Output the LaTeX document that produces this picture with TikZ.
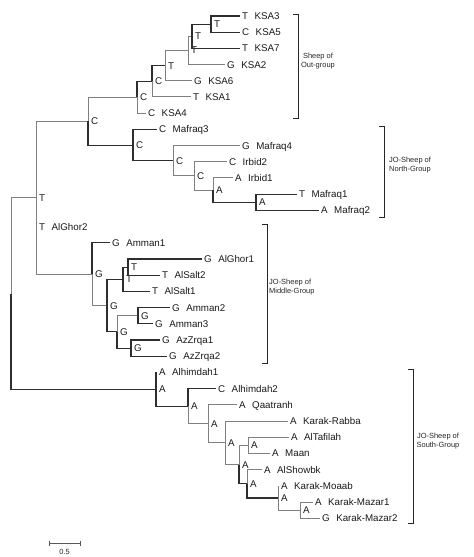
\documentclass[tikz,border=0pt]{standalone}
\usepackage{fontspec}
\setmainfont{Liberation Sans}
\newcommand\tgap{\hspace{6.5bp}}

\begin{document}
\begin{tikzpicture}[x=1bp,y=-1bp,
    br/.style={draw=black!50,line width=1bp},
    bk/.style={draw=black!82,line width=1.1bp},
    lf/.style={inner sep=2bp,text height=7bp,text depth=0bp,text=black!90,font=\fontsize{9.8}{11}\selectfont},
    st/.style={lf,inner sep=3bp},
    grp/.style={align=center,inner sep=0pt,text=black!85,font=\fontsize{7.5}{9}\selectfont},
    brk/.style={draw=black!85,line width=0.9bp}]
\useasboundingbox (0,0) rectangle (474,557);

                      % leaves
                      \coordinate[label={[lf]right:T\tgap KSA3}] (ksa3) at (240,16);
                      \coordinate[label={[lf]right:C\tgap KSA5}] (ksa5) at (240,32.2);
                      \coordinate[label={[lf]right:T\tgap KSA7}] (ksa7) at (240,48.4);
                      \coordinate[label={[lf]right:G\tgap KSA2}] (ksa2) at (225,64.6);
                      \coordinate[label={[lf]right:G\tgap KSA6}] (ksa6) at (192,80.8);
                      \coordinate[label={[lf]right:T\tgap KSA1}] (ksa1) at (191,97);
                      \coordinate[label={[lf]right:C\tgap KSA4}] (ksa4) at (146,113.2);

                      \coordinate[label={[lf]right:C\tgap Mafraq3}] (mafraq3) at (157,129.4);
                      \coordinate[label={[lf]right:G\tgap Mafraq4}] (mafraq4) at (240,145.6);
                      \coordinate[label={[lf]right:C\tgap Irbid2}] (irbid2) at (227,161.8);
                      \coordinate[label={[lf]right:A\tgap Irbid1}] (irbid1) at (233,178);
                      \coordinate[label={[lf]right:T\tgap Mafraq1}] (mafraq1) at (297,194.2);
                      \coordinate[label={[lf]right:A\tgap Mafraq2}] (mafraq2) at (319,210.4);

                      \coordinate[label={[st]right:T\tgap AlGhor2}] (alghor2) at (36,226.6);
                      \coordinate[label={[lf]right:G\tgap Amman1}] (amman1) at (110,242.8);
                      \coordinate[label={[lf]right:G\tgap AlGhor1}] (alghor1) at (202,259);
                      \coordinate[label={[lf]right:T\tgap AlSalt2}] (alsalt2) at (160,275.2);
                      \coordinate[label={[lf]right:T\tgap AlSalt1}] (alsalt1) at (150,291.4);
                      \coordinate[label={[lf]right:G\tgap Amman2}] (amman2) at (170,307.6);
                      \coordinate[label={[lf]right:G\tgap Amman3}] (amman3) at (153,323.8);
                      \coordinate[label={[lf]right:G\tgap AzZrqa1}] (azzrqa1) at (160,340);
                      \coordinate[label={[lf]right:G\tgap AzZrqa2}] (azzrqa2) at (167,356.2);

                      \coordinate[label={[st]right:A\tgap Alhimdah1}] (alhimdah1) at (156,372.4);
                      \coordinate[label={[lf]right:C\tgap Alhimdah2}] (alhimdah2) at (216,388.6);
                      \coordinate[label={[lf]right:A\tgap Qaatranh}] (qaatranh) at (237,404.8);
                      \coordinate[label={[lf]right:A\tgap Karak-Rabba}] (karakrabba) at (288,421);
                      \coordinate[label={[lf]right:A\tgap AlTafilah}] (altafilah) at (289,437.2);
                      \coordinate[label={[lf]right:A\tgap Maan}] (maan) at (270,453.4);
                      \coordinate[label={[lf]right:A\tgap AlShowbk}] (alshowbk) at (262,469.6);
                      \coordinate[label={[st]right:A\tgap Karak-Moaab}] (karakmoaab) at (278,485.8);
                      \coordinate[label={[lf]right:A\tgap Karak-Mazar1}] (karakmazar1) at (313,502);
                      \coordinate[label={[lf]right:G\tgap Karak-Mazar2}] (karakmazar2) at (320,518.2);

                      % inner nodes
                      \coordinate (r) at (11,293.5);
                      \coordinate[label={[st]right:T}] (nT) at (36,197.7);
                      \coordinate[label={[st]right:C}] (nC1) at (88,121.2);
                      \coordinate[label={[st]right:C}] (nC2) at (137,97.25);
                      \coordinate[label={[st]right:C}] (nC3) at (152,81.3);
                      \coordinate[label={[st]right:T}] (nT2) at (165,65.6);
                      \coordinate[label={[st]right:T}] (nT3) at (188,50.4);
                      \coordinate[label={[st]right:T}] (nT4) at (192,36.25);
                      \coordinate[label={[st]right:T}] (nT5) at (211,24.1);
                      \coordinate[label={[st]right:C}] (nC4) at (133,145.1);
                      \coordinate[label={[st]right:C}] (nC5) at (173,160.8);
                      \coordinate[label={[st]right:C}] (nC6) at (194,176);
                      \coordinate[label={[st]right:A}] (nA1) at (213,190.15);
                      \coordinate[label={[st]right:A}] (nA2) at (256,202.3);
                      \coordinate[label={[st]right:G}] (nG1) at (92,274.2);
                      \coordinate[label={[st]right:G}] (nG2) at (107,305.6);
                      \coordinate[label={[st]right:T}] (nT6) at (123,279.25);
                      \coordinate[label={[st]right:T}] (nT7) at (128,267.1);
                      \coordinate[label={[st]right:G}] (nG3) at (117,331.9);
                      \coordinate[label={[st]right:G}] (nG4) at (138,315.7);
                      \coordinate[label={[st]right:G}] (nG5) at (131,348.1);
                      \coordinate[label={[st]right:A}] (nA3) at (156,389.3);
                      \coordinate[label={[st]right:A}] (nA4) at (188,406.2);
                      \coordinate[label={[st]right:A}] (nA5) at (208,423.8);
                      \coordinate[label={[st]right:A}] (nA6) at (225,442.8);
                      \coordinate[label={[st]right:A}] (nA7) at (239,464.55);
                      \coordinate[label={[st]right:A}] (nA8) at (248,445.3);
                      \coordinate[label={[st]right:A}] (nA9) at (247,483.8);
                      \coordinate[label={[st]right:A}] (nA10) at (278,498);
                      \coordinate[label={[st]right:A}] (nA11) at (300,510.1);

                      % branches
                      \draw[br] (r) |- (nT);
                      \draw[br] (nT) |- (nC1) (nT) |- (alghor2) (nT) |- (nG1);
                      \draw[br] (nC1) |- (nC2);
                      \draw[br] (nC2) |- (ksa4);
                      \draw[br] (nC3) |- (ksa1);
                      \draw[br] (nT2) |- (nT3) (nT2) |- (ksa6);
                      \draw[br] (nT3) |- (nT4) (nT3) |- (ksa2);
                      \draw[br] (nC5) |- (mafraq4) (nC5) |- (nC6);
                      \draw[br] (nC6) |- (irbid2) (nC6) |- (nA1);
                      \draw[br] (nA1) |- (irbid1);
                      \draw[br] (nG1) |- (nG2);
                      \draw[br] (nG3) |- (nG4);
                      \draw[br] (nA4) |- (nA5);
                      \draw[br] (nA5) |- (qaatranh) (nA5) |- (nA6);
                      \draw[br] (nA6) |- (karakrabba) (nA6) |- (nA7);
                      \draw[br] (nA7) |- (nA8);
                      \draw[br] (nA8) |- (altafilah) (nA8) |- (maan);
                      \draw[br] (nA9) |- (alshowbk);
                      \draw[br] (nA10) |- (karakmoaab) (nA10) |- (nA11);
                      \draw[br] (nA11) |- (karakmazar1) (nA11) |- (karakmazar2);

                      \draw[bk] (r) |- (nA3);
                      \draw[bk] (nC1) |- (nC4);
                      \draw[bk] (nC2) |- (nC3);
                      \draw[bk] (nC3) |- (nT2);
                      \draw[bk] (nT4) |- (nT5) (nT4) |- (ksa7);
                      \draw[bk] (nT5) |- (ksa3) (nT5) |- (ksa5);
                      \draw[bk] (nC4) |- (mafraq3) (nC4) |- (nC5);
                      \draw[bk] (nA1) |- (nA2);
                      \draw[bk] (nA2) |- (mafraq1) (nA2) |- (mafraq2);
                      \draw[bk] (nG1) |- (amman1);
                      \draw[bk] (nG2) |- (nT6) (nG2) |- (nG3);
                      \draw[bk] (nT6) |- (nT7) (nT6) |- (alsalt1);
                      \draw[bk] (nT7) |- (alghor1) (nT7) |- (alsalt2);
                      \draw[bk] (nG3) |- (nG5);
                      \draw[bk] (nG4) |- (amman2) (nG4) |- (amman3);
                      \draw[bk] (nG5) |- (azzrqa1) (nG5) |- (azzrqa2);
                      \draw[bk] (nA3) |- (alhimdah1) (nA3) |- (nA4);
                      \draw[bk] (nA4) |- (alhimdah2);
                      \draw[bk] (nA7) |- (nA9);
                      \draw[bk] (nA9) |- (nA10);

                      % groups
                      \draw[brk] (293,14) -| (298,118) -- (293,118);
                      \draw[brk] (379,126) -| (384,217) -- (379,217);
                      \draw[brk] (262,224) -| (267,363) -- (262,363);
                      \draw[brk] (408,369) -| (413,523) -- (408,523);
                      \node[grp] (outg) at (318,61) {Sheep of\\Out-group};
                      \node[grp] (northg) at (410,165) {JO-Sheep of\\North-Group};
                      \node[grp,anchor=west,align=left] (midg) at (269,287) {JO-Sheep of\\Middle-Group};
                      \node[grp] (southg) at (438,441.5) {JO-Sheep of\\South-Group};

                      % scale
                      \draw[draw=black!65,line width=0.8bp] (49,543) -- (80,543) (49,540.5) -- (49,545.5) (80,540.5) -- (80,545.5);
                      \node[grp] (scl) at (64.5,551.5) {0.5};
                    \end{tikzpicture}
\end{document}
